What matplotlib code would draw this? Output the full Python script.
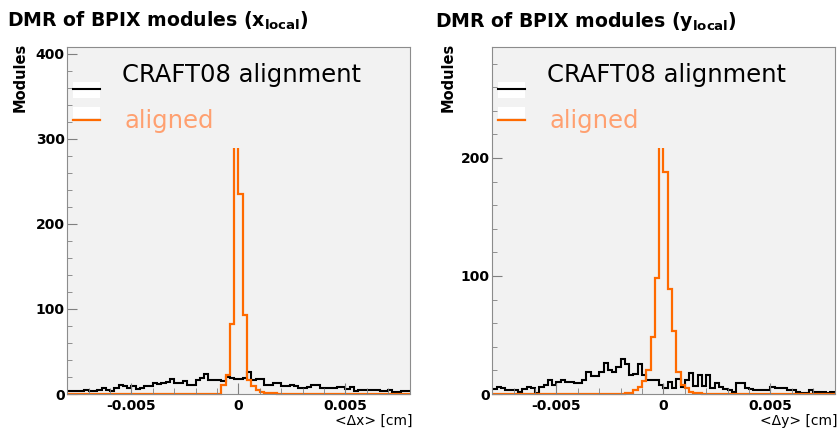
import numpy as np
import matplotlib
matplotlib.use('Agg')
import matplotlib.pyplot as plt
from matplotlib.patches import Rectangle
from matplotlib.ticker import FixedLocator, MultipleLocator

plt.rcParams['font.family'] = ['DejaVu Sans']
plt.rcParams['mathtext.fontset'] = 'dejavusans'
plt.rcParams['axes.unicode_minus'] = False

# 80 bins from -0.008 to 0.008 cm
bin_lo, bin_hi, n_bins = -0.008, 0.008, 80

# DMR x_local
craft_x = [3, 3, 3, 4, 5, 3, 4, 5, 7, 5,
           4, 7, 10, 9, 7, 9, 6, 7, 9, 9,
           13, 12, 13, 14, 18, 13, 13, 15, 11, 11,
           17, 19, 23, 17, 17, 16, 15, 20, 19, 18,
           18, 19, 26, 17, 18, 18, 11, 11, 13, 13,
           9, 9, 11, 9, 7, 7, 8, 11, 10, 7,
           7, 7, 7, 8, 8, 6, 8, 4, 5, 5,
           5, 5, 5, 4, 4, 5, 2, 2, 4, 4]
aligned_x = [0] * 36 + [10, 22, 82, 300, 235, 93, 17, 9, 5, 2, 1, 1, 1] + [0] * 31

# DMR y_local
craft_y = [4, 6, 5, 3, 3, 3, 2, 4, 6, 5,
           1, 6, 8, 12, 8, 10, 12, 10, 10, 9,
           9, 12, 19, 15, 15, 19, 26, 20, 19, 23,
           30, 25, 16, 17, 25, 16, 12, 12, 12, 8,
           5, 10, 5, 13, 6, 12, 18, 7, 16, 7,
           16, 5, 9, 6, 4, 3, 2, 9, 9, 5,
           4, 3, 3, 3, 3, 6, 5, 5, 5, 3,
           3, 2, 1, 1, 3, 2, 2, 2, 1, 2]
aligned_y = [0] * 31 + [1, 1, 3, 6, 11, 20, 48, 98, 214, 188, 89, 53, 19, 8, 5, 2, 1, 1] + [0] * 31

series_names = ['CRAFT08 alignment', 'aligned']
x_ticks = [-0.005, 0, 0.005]
x_tick_labels = ['-0.005', '0', '0.005']

BG = '#f2f2f2'
ORANGE = '#ff6a00'
LEG_ORANGE = '#ffa070'
W, H = 838, 429


def px_axes(left, top, right, bottom):
    return [left / W, 1 - bottom / H, (right - left) / W, (bottom - top) / H]


def draw_panel(fig, rect, craft, aligned, ymax, yticks, title, xlabel, ox):
    ax = fig.add_axes(rect)
    ax.set_facecolor(BG)
    edges = np.linspace(bin_lo, bin_hi, n_bins + 1)
    ax.stairs(craft, edges, color='black', lw=1.5, baseline=None, zorder=1.2)
    ax.stairs(aligned, edges, color=ORANGE, lw=1.6, zorder=1.3, clip_on=False)
    ax.set_xlim(bin_lo, bin_hi)
    ax.set_ylim(0, ymax)

    ax.xaxis.set_major_locator(FixedLocator(x_ticks))
    ax.set_xticklabels(x_tick_labels)
    ax.xaxis.set_minor_locator(MultipleLocator(0.001))
    ax.yaxis.set_major_locator(FixedLocator(yticks))
    ax.yaxis.set_minor_locator(MultipleLocator(20))
    ax.tick_params(axis='both', which='both', direction='in', color='#808080',
                   top=False, right=False)
    ax.tick_params(axis='x', which='major', length=8, pad=3.5)
    ax.tick_params(axis='x', which='minor', length=4.3)
    ax.tick_params(axis='y', which='major', length=7, pad=2)
    ax.tick_params(axis='y', which='minor', length=3.6)
    for lab in ax.get_xticklabels() + ax.get_yticklabels():
        lab.set_fontweight('bold')
        lab.set_fontsize(10)
    for sp in ax.spines.values():
        sp.set_color('#8c8c8c')
        sp.set_linewidth(0.8)

    # legend box (hides the top of the peak like in the original)
    ax.add_patch(Rectangle((0, 0.708), 0.88, 0.292, transform=ax.transAxes,
                           facecolor=BG, edgecolor='none', zorder=1.5))
    ax.add_patch(Rectangle((0.017, 0.852), 0.08, 0.047, transform=ax.transAxes,
                           facecolor='white', edgecolor='none', zorder=1.6))
    ax.add_patch(Rectangle((0.017, 0.796), 0.08, 0.03, transform=ax.transAxes,
                           facecolor='white', edgecolor='none', zorder=1.6))
    ax.plot([0.017, 0.097], [0.88, 0.88], transform=ax.transAxes,
            color='black', lw=1.5, zorder=1.7)
    ax.plot([0.017, 0.097], [0.791, 0.791], transform=ax.transAxes,
            color=ORANGE, lw=1.6, zorder=1.7)
    ax.text(0.16, 0.918, series_names[0], transform=ax.transAxes,
            fontsize=17.5, color='black', va='center', ha='left', zorder=1.8)
    ax.text(0.168, 0.787, series_names[1], transform=ax.transAxes,
            fontsize=17.5, color=LEG_ORANGE, va='center', ha='left', zorder=1.8)

    fig.text((ox + 7) / W, 1 - 27 / H, title, fontsize=13.6, fontweight='bold',
             ha='left', va='baseline')
    fig.text((ox + 20) / W, 1 - 43 / H, 'Modules', fontsize=10.5,
             fontweight='bold', rotation=90, ha='center', va='top')
    ax.text(1.01, -0.077, xlabel, transform=ax.transAxes,
            fontsize=10, ha='right', va='center')
    return ax


fig = plt.figure(figsize=(W / 100, H / 100), dpi=100)

draw_panel(fig, px_axes(67.3, 47, 409.5, 394), craft_x, aligned_x, 408,
           [0, 100, 200, 300, 400],
           r'DMR of BPIX modules ($\mathbf{x}_{\mathbf{local}}$)',
           '<\u0394x> [cm]', 0)

draw_panel(fig, px_axes(492.3, 47, 834.5, 394), craft_y, aligned_y, 294,
           [0, 100, 200],
           r'DMR of BPIX modules ($\mathbf{y}_{\mathbf{local}}$)',
           '<\u0394y> [cm]', 428)

fig.savefig('out.png', dpi=100, facecolor='white')
